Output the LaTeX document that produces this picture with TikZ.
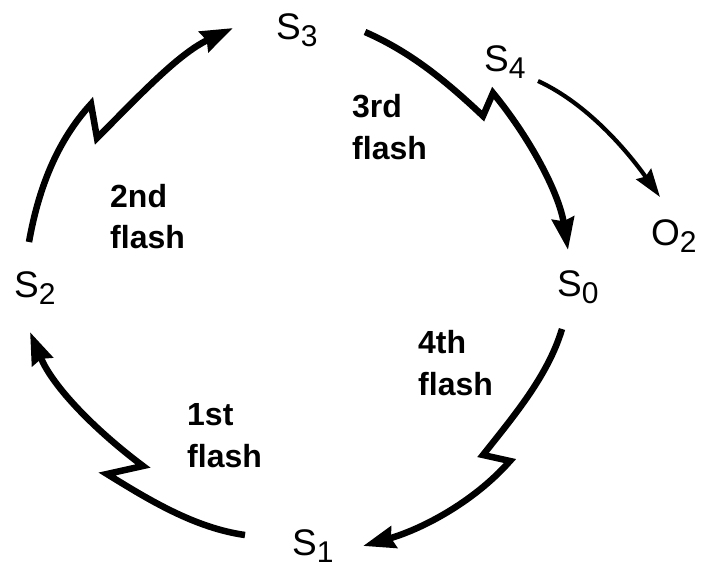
\documentclass[tikz,border=0pt]{standalone}
\usepackage{fontspec}
\setmainfont{Liberation Sans}
\usetikzlibrary{arrows.meta}
\newcommand\stsub[2]{#1\raisebox{-7pt}{\fontsize{30}{30}\selectfont #2}}
\begin{document}
\begin{tikzpicture}[x=1pt,y=-1pt,
  state/.style={inner sep=0pt, anchor=base west, font=\fontsize{37}{37}\selectfont},
  flashlbl/.style={inner sep=0pt, anchor=base west, align=left, font=\bfseries\fontsize{32}{42}\selectfont},
  cyc/.style={line width=6.5pt, line join=miter, -{Stealth[length=32pt,width=22pt,inset=3pt]}},
  rel/.style={line width=4.2pt, -{Stealth[length=28pt,width=18pt,inset=3pt]}}]
\fill[white] (0,0) rectangle (705,567);
\useasboundingbox (0,0) rectangle (705,567);

% state labels
\node[state] (S3) at (276,40) {\stsub{S}{3}};
\node[state] (S4) at (484,72) {\stsub{S}{4}};
\node[state] (S2) at (14,298) {\stsub{S}{2}};
\node[state] (S0) at (557,296) {\stsub{S}{0}};
\node[state] (S1) at (292,555) {\stsub{S}{1}};
\node[state] (O2) at (651,246) {\stsub{O}{2}};

% flash labels (anchor at the baseline of the last line)
\node[flashlbl] (f2) at (110,249) {2nd\\flash};
\node[flashlbl] (f3) at (352,160) {3rd\\flash};
\node[flashlbl] (f1) at (187,467) {1st\\flash};
\node[flashlbl] (f4) at (418,395) {4th\\flash};

% connector ends and zigzag corners
\coordinate (a1s) at (245,535); \coordinate (a1l) at (107,474); \coordinate (a1r) at (143,466); \coordinate (a1t) at (30,332);
\coordinate (a2s) at (29,242);  \coordinate (a2u) at (91,104);  \coordinate (a2d) at (97,138);  \coordinate (a2t) at (233,28);
\coordinate (a3s) at (365,32);  \coordinate (a3d) at (483,116); \coordinate (a3u) at (493,93);  \coordinate (a3t) at (568,250);
\coordinate (a4s) at (562,329); \coordinate (a4l) at (483,455); \coordinate (a4r) at (510,461); \coordinate (a4t) at (363,546);
\coordinate (a5s) at (538,81);  \coordinate (a5t) at (660,197);

% 1st flash: S1 -> S2
\draw[cyc] (a1s) .. controls (195,528) and (149,500) .. (a1l) -- (a1r)
  .. controls (95,430) and (53,387) .. (a1t);
% 2nd flash: S2 -> S3
\draw[cyc] (a2s) .. controls (38,191) and (56,142) .. (a2u) -- (a2d)
  .. controls (139,96) and (178,54) .. (a2t);
% 3rd flash: S3 -> S0
\draw[cyc] (a3s) .. controls (411,52) and (447,82) .. (a3d) -- (a3u)
  .. controls (530,138) and (559,193) .. (a3t);
% 4th flash: S0 -> S1
\draw[cyc] (a4s) .. controls (548,376) and (513,417) .. (a4l) -- (a4r)
  .. controls (472,504) and (419,530) .. (a4t);
% S4 -> O2
\draw[rel] (a5s) .. controls (588,104) and (628,152) .. (a5t);
\end{tikzpicture}
\end{document}
